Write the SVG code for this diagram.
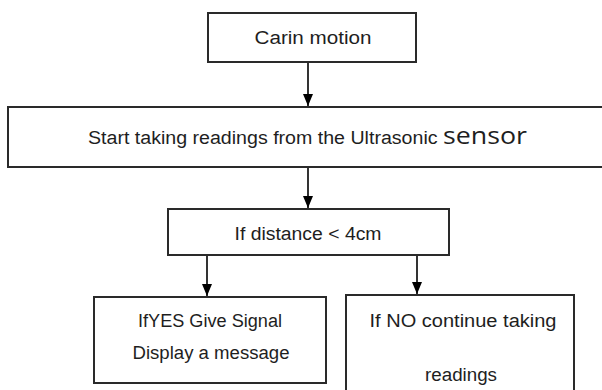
<svg xmlns="http://www.w3.org/2000/svg" width="602" height="390" viewBox="0 0 602 390">
  <style>
    .box { fill: #ffffff; stroke: #2a2a2a; stroke-width: 2; }
    .label { font-family: "Liberation Sans", Arial, sans-serif; font-size: 18px; fill: #1e1e1e; text-anchor: middle; }
    .big { font-family: "Open Sans", "Noto Sans", sans-serif; font-size: 24px; }
    .link { stroke: #000000; stroke-width: 1.6; fill: none; marker-end: url(#arrow); }
  </style>
  <defs>
    <!-- filled triangular head, tip at the end of the line -->
    <marker id="arrow" viewBox="0 0 12 10" refX="12" refY="5" markerWidth="12" markerHeight="10" markerUnits="userSpaceOnUse" orient="auto">
      <path d="M0,0 L12,5 L0,10 Z" fill="#000000"/>
    </marker>
  </defs>
  <rect width="602" height="390" fill="#ffffff"/>

  <g id="connectors">
    <line class="link" x1="308" y1="63" x2="308" y2="106"/>
    <line class="link" x1="308" y1="168" x2="308" y2="208"/>
    <line class="link" x1="207" y1="256" x2="207" y2="296"/>
    <line class="link" x1="417" y1="256" x2="417" y2="294"/>
  </g>

  <g id="car-in-motion">
    <rect class="box" x="208" y="13" width="208" height="49"/>
    <text class="label" x="313" y="44" textLength="117" lengthAdjust="spacingAndGlyphs">Carin motion</text>
  </g>

  <g id="start-readings">
    <rect class="box" x="8" y="107" width="600" height="60"/>
    <text class="label" x="88" y="144" style="text-anchor:start"><tspan textLength="355" lengthAdjust="spacingAndGlyphs">Start taking readings from the Ultrasonic </tspan><tspan class="big" textLength="84" lengthAdjust="spacingAndGlyphs">sensor</tspan></text>
  </g>

  <g id="distance-check">
    <rect class="box" x="168" y="209" width="281" height="46"/>
    <text class="label" x="308" y="240" textLength="147" lengthAdjust="spacingAndGlyphs">If distance &lt; 4cm</text>
  </g>

  <g id="yes-branch">
    <rect class="box" x="94" y="297" width="232" height="86"/>
    <text class="label" x="210" y="327" textLength="144" lengthAdjust="spacingAndGlyphs">IfYES Give Signal</text>
    <text class="label" x="211" y="359" textLength="157" lengthAdjust="spacingAndGlyphs">Display a message</text>
  </g>

  <g id="no-branch">
    <rect class="box" x="346" y="295" width="228" height="100"/>
    <text class="label" x="463" y="327" textLength="187" lengthAdjust="spacingAndGlyphs">If NO continue taking</text>
    <text class="label" x="461" y="381" textLength="72" lengthAdjust="spacingAndGlyphs">readings</text>
  </g>
</svg>
